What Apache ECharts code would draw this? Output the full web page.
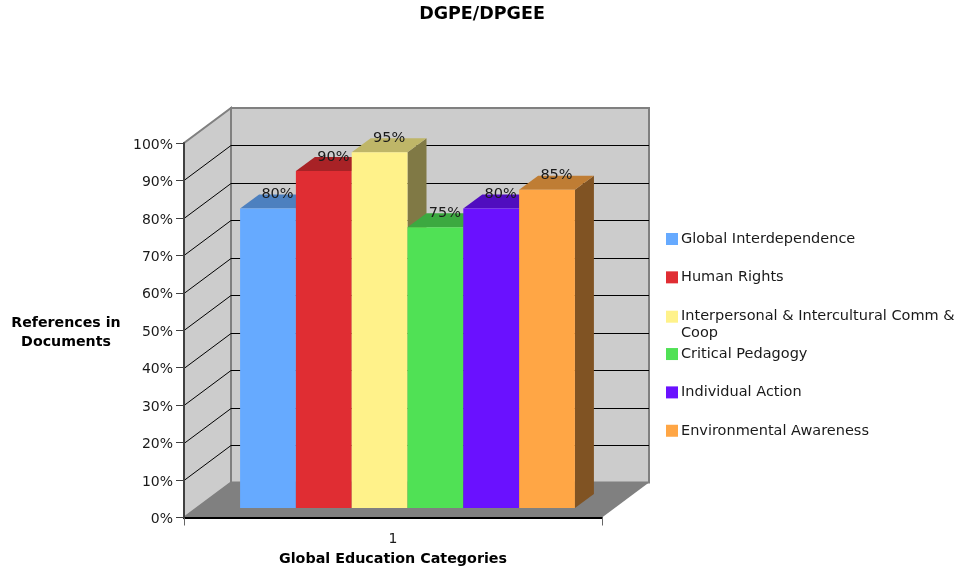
<!DOCTYPE html>
<html>
<head>
<meta charset="utf-8">
<style>
  html, body { margin: 0; padding: 0; background: #fff; }
  #chart { width: 960px; height: 571px; }
</style>
<script src="https://cdn.jsdelivr.net/npm/echarts@6/dist/echarts.min.js"></script>
</head>
<body>
<div id="chart"></div>
<script>
const categories = ["1"];
const seriesNames = [
  "Global Interdependence",
  "Human Rights",
  "Interpersonal & Intercultural Comm & Coop",
  "Critical Pedagogy",
  "Individual Action",
  "Environmental Awareness",
];
const seriesValues = [80, 90, 95, 75, 80, 85];
const seriesColors = ["#66aaff", "#e02d33", "#fff28a", "#50e155", "#6a11ff", "#ffa645"];
const tickValues = [0, 10, 20, 30, 40, 50, 60, 70, 80, 90, 100];

const FONT = "DejaVu Sans";
const WALL_DX = 47, WALL_DY = -35; // depth of the whole box
const BAR_DX = 19, BAR_DY = -14; // depth of one bar
const FRONT_DX = 14.5, FRONT_DY = -9.5; // bars stand a bit inside the floor

function shade(hex, f) {
  const c = echarts.color.parse(hex);
  return `rgb(${Math.round(c[0] * f)},${Math.round(c[1] * f)},${Math.round(c[2] * f)})`;
}

function poly(points, fill, stroke) {
  return {
    type: "polygon",
    shape: { points },
    style: { fill, stroke: stroke || null, lineWidth: stroke ? 2 : 0 },
  };
}

function renderWalls(params, api) {
  const a = api.coord([0, 0]);
  const b = api.coord([0, 100]);
  const halfBand = api.size([1, 0])[0] / 2;
  const x0 = a[0] - halfBand, x1 = a[0] + halfBand, y0 = a[1], y1 = b[1];
  return {
    type: "group",
    children: [
      poly([[x0, y0], [x0 + WALL_DX, y0 + WALL_DY], [x0 + WALL_DX, y1 + WALL_DY], [x0, y1]], "#cccccc", "#808080"),
      poly([[x0 + WALL_DX, y0 + WALL_DY], [x1 + WALL_DX, y0 + WALL_DY], [x1 + WALL_DX, y1 + WALL_DY], [x0 + WALL_DX, y1 + WALL_DY]], "#cccccc", "#808080"),
      poly([[x0, y0], [x1, y0], [x1 + WALL_DX, y0 + WALL_DY], [x0 + WALL_DX, y0 + WALL_DY]], "#808080"),
    ],
  };
}

function renderGridLine(params, api) {
  const v = api.value(0);
  if (v === 0 || v === 100) return null;
  const p = api.coord([0, v]);
  const halfBand = api.size([1, 0])[0] / 2;
  const x0 = p[0] - halfBand, x1 = p[0] + halfBand, y = Math.round(p[1]) + 0.5;
  const lineStyle = { stroke: "#000", lineWidth: 1, fill: null };
  return {
    type: "group",
    children: [
      { type: "polyline", shape: { points: [[x0, y], [x0 + WALL_DX, y + WALL_DY], [x1 + WALL_DX, y + WALL_DY]] }, style: lineStyle },
    ],
  };
}

function renderBar(params, api) {
  const i = params.seriesIndex - 2;
  const v = api.value(1);
  const base = api.coord([0, 0]);
  const top = api.coord([0, v]);
  const w = api.size([1, 0])[0] * 0.1335;
  const xl = base[0] + FRONT_DX + (i - 3) * w;
  const xr = xl + w;
  const yb = base[1] + FRONT_DY;
  const yt = top[1] + FRONT_DY;
  const color = seriesColors[i];
  return {
    type: "group",
    children: [
      poly([[xr, yb], [xr + BAR_DX, yb + BAR_DY], [xr + BAR_DX, yt + BAR_DY], [xr, yt]], shade(color, 0.5)),
      poly([[xl, yt], [xr, yt], [xr + BAR_DX, yt + BAR_DY], [xl + BAR_DX, yt + BAR_DY]], shade(color, 0.75)),
      poly([[xl, yb], [xr, yb], [xr, yt], [xl, yt]], color),
      {
        type: "text",
        z2: 10,
        style: {
          text: v + "%",
          x: (xl + xr) / 2 + BAR_DX / 2,
          y: yt - 14,
          align: "center",
          verticalAlign: "middle",
          fill: "#1a1a1a",
          font: "14.5px '" + FONT + "'",
        },
      },
    ],
  };
}

const chart = echarts.init(document.getElementById("chart"), null, { renderer: "canvas" });

const legends = seriesNames.map((name, i) => {
  const wrapped = i === 2;
  return {
    data: [name],
    orient: "vertical",
    left: 666,
    top: 230.5 + i * 38.35 - (wrapped ? 16 : 0),
    padding: 0,
    itemWidth: 12,
    itemHeight: 12,
    itemGap: 0,
    icon: "rect",
    selectedMode: false,
    // leading blank line keeps the swatch level with the first text line
    formatter: wrapped ? () => "\nInterpersonal & Intercultural Comm &\nCoop" : undefined,
    textStyle: {
      fontFamily: FONT,
      fontSize: 14.5,
      color: "#1a1a1a",
      lineHeight: 17,
      padding: [0, 0, 0, -2],
    },
  };
});

chart.setOption({
  animation: false,
  backgroundColor: "#fff",
  title: {
    text: "DGPE/DPGEE",
    left: 477,
    top: 0,
    textAlign: "center",
    textStyle: { fontFamily: FONT, fontSize: 17.5, fontWeight: "bold", color: "#000" },
  },
  legend: legends,
  grid: { left: 184, right: 358, top: 143, bottom: 53.5, outerBoundsMode: "none" },
  xAxis: {
    type: "category",
    data: categories,
    z: 5,
    name: "Global Education Categories",
    nameLocation: "middle",
    nameGap: 35,
    nameTextStyle: { fontFamily: FONT, fontSize: 14.3, fontWeight: "bold", color: "#000" },
    axisLine: { lineStyle: { color: "#000", width: 2 } },
    axisTick: { show: true, length: 8, lineStyle: { color: "#666" } },
    axisLabel: { fontFamily: FONT, fontSize: 14, color: "#1a1a1a", margin: 15 },
  },
  yAxis: {
    type: "value",
    min: 0,
    max: 100,
    interval: 10,
    z: 5,
    name: "{a|References in}\n{a|Documents}",
    nameLocation: "middle",
    nameRotate: 0,
    nameGap: 118,
    nameTextStyle: {
      align: "center",
      rich: { a: { fontFamily: FONT, fontSize: 14.2, fontWeight: "bold", color: "#000", lineHeight: 19, verticalAlign: "bottom" } },
    },
    axisLine: { show: true, lineStyle: { color: "#404040", width: 2 } },
    axisTick: { show: true, length: 8, lineStyle: { color: "#404040" } },
    axisLabel: {
      formatter: (v) => `{a|${v}%}`,
      margin: 11,
      rich: { a: { fontFamily: FONT, fontSize: 14, color: "#1a1a1a", lineHeight: 18, verticalAlign: "bottom" } },
    },
    splitLine: { show: false },
  },
  series: [
    { type: "custom", name: "walls", z: 1, silent: true, data: [[0, 0]], encode: { x: 0, y: 1 }, renderItem: renderWalls },
    { type: "custom", name: "grid", z: 2, silent: true, data: tickValues.map((t) => [t]), encode: { y: 0 }, renderItem: renderGridLine },
  ].concat(seriesNames.map((name, i) => ({
    type: "custom",
    name,
    z: 3,
    itemStyle: { color: seriesColors[i] },
    data: [[0, seriesValues[i]]],
    encode: { x: 0, y: 1 },
    renderItem: renderBar,
  }))),
});
</script>
</body>
</html>
